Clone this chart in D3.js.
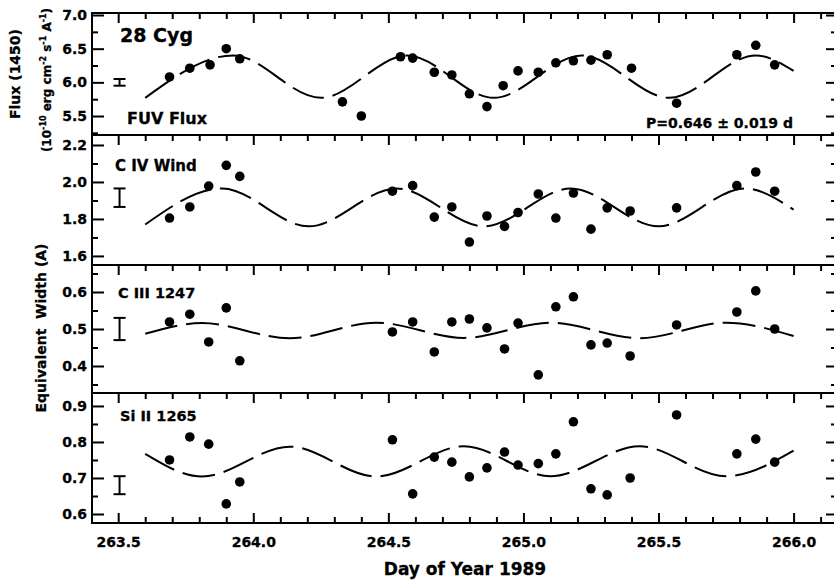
<!DOCTYPE html>
<html>
<head>
<meta charset="utf-8">
<script src="https://cdn.jsdelivr.net/npm/d3@7"></script>
<style>
    body { margin: 0; background: #fff; }
    svg { display: block; }
    text { font-family: "DejaVu Sans", sans-serif; font-weight: bold; fill: #000; stroke: #000; stroke-width: 0.3px; }
    .axis line { stroke: #000; stroke-width: 2; }
    .axis text { font-family: "DejaVu Sans", sans-serif; font-weight: bold; font-size: 14px; stroke: #000; stroke-width: 0.3px; }
    .frame { fill: none; stroke: #000; stroke-width: 2; }
    .fit { fill: none; stroke: #000; stroke-width: 2; stroke-dasharray: 33, 9; }
    .err { stroke: #000; stroke-width: 2; }
</style>
</head>
<body>
<script>

// observations, day of year 1989
var fuvDays = [263.69, 263.765, 263.84, 263.90, 263.95, 264.33, 264.40, 264.545, 264.59, 264.67,
    264.735, 264.80, 264.865, 264.925, 264.98, 265.055, 265.12, 265.185, 265.25, 265.31,
    265.40, 265.567, 265.79, 265.86, 265.93];
var fuvFlux = [6.08, 6.21, 6.26, 6.50, 6.35, 5.71, 5.50, 6.38, 6.36, 6.15,
    6.11, 5.83, 5.64, 5.95, 6.17, 6.15, 6.29, 6.32, 6.33, 6.41,
    6.21, 5.69, 6.41, 6.55, 6.26];

var lineDays = [263.69, 263.765, 263.835, 263.90, 263.95, 264.515, 264.59, 264.67, 264.735, 264.80,
    264.865, 264.93, 264.98, 265.055, 265.12, 265.185, 265.25, 265.31, 265.395, 265.567,
    265.79, 265.86, 265.93];
var civEW = [1.805, 1.865, 1.978, 2.09, 2.03, 1.95, 1.98, 1.81, 1.865, 1.675,
    1.816, 1.76, 1.835, 1.935, 1.805, 1.94, 1.745, 1.86, 1.843, 1.86,
    1.98, 2.054, 1.95];
var ciiiEW = [0.519, 0.54, 0.465, 0.557, 0.414, 0.492, 0.519, 0.438, 0.519, 0.527,
    0.503, 0.446, 0.516, 0.376, 0.56, 0.587, 0.457, 0.462, 0.427, 0.511,
    0.546, 0.603, 0.50];
var siiiEW = [0.75, 0.814, 0.794, 0.628, 0.689, 0.806, 0.656, 0.758, 0.744, 0.703,
    0.728, 0.772, 0.736, 0.74, 0.767, 0.856, 0.67, 0.653, 0.70, 0.875,
    0.767, 0.808, 0.744];

// dashed fits (P = 0.646 d) at turning points
var fuvFitDays = [263.60, 263.925, 264.25, 264.57, 264.89, 265.215, 265.54, 265.86, 266.00];
var fuvFit = [5.77, 6.40, 5.77, 6.40, 5.77, 6.40, 5.77, 6.40, 6.17];
var civFitDays = [263.60, 263.885, 264.205, 264.53, 264.855, 265.175, 265.50, 265.82, 266.00];
var civFit = [1.77, 1.965, 1.76, 1.965, 1.76, 1.965, 1.76, 1.965, 1.85];
var lineFitDays = [263.60, 263.81, 264.135, 264.455, 264.78, 265.10, 265.43, 265.75, 266.00];
var ciiiFit = [0.487, 0.516, 0.475, 0.517, 0.476, 0.517, 0.475, 0.517, 0.481];
var siiiFit = [0.767, 0.704, 0.787, 0.704, 0.788, 0.705, 0.788, 0.705, 0.776];

// typical error bars
var errDay = 263.505;
var errCenter = [6.0, 1.915, 0.50, 0.68];
var errHalf = [0.05, 0.05, 0.03, 0.025];

// axis ticks
var xMajor = [263.5, 264.0, 264.5, 265.0, 265.5, 266.0];
var yMajor = [[5.5, 6.0, 6.5, 7.0], [1.6, 1.8, 2.0, 2.2], [0.4, 0.5, 0.6], [0.6, 0.7, 0.8, 0.9]];
var yMinor = [[5.25, 5.75, 6.25, 6.75], [1.7, 1.9, 2.1], [0.35, 0.45, 0.55, 0.65], [0.65, 0.75, 0.85]];
var panelNames = ["FUV Flux", "C IV Wind", "C III 1247", "Si II 1265"];


var width = 834
    , height = 581
    , left = 92
    , right = 836;

var panels = [
    {top: 13, bottom: 135, domain: [5.218, 7.03], days: fuvDays, values: fuvFlux, fitDays: fuvFitDays, fit: fuvFit},
    {top: 135, bottom: 265, domain: [1.551, 2.254], days: lineDays, values: civEW, fitDays: civFitDays, fit: civFit},
    {top: 265, bottom: 393, domain: [0.327, 0.673], days: lineDays, values: ciiiEW, fitDays: lineFitDays, fit: ciiiFit},
    {top: 393, bottom: 523, domain: [0.575, 0.936], days: lineDays, values: siiiEW, fitDays: lineFitDays, fit: siiiFit}
];

var svg = d3.select("body").append("svg")
    .attr("width", width)
    .attr("height", height);

// 263.5 -> 118px, 266.0 -> 788px
var x = d3.scaleLinear()
    .domain([263.403, 266.157])
    .range([left, right]);

var xMinor = d3.range(263.6, 266.15, 0.1).filter(function(d) {
    return Math.abs(d * 2 - Math.round(d * 2)) > 0.01;
});

var line = d3.line()
    .curve(d3.curveMonotoneX);

panels.forEach(function(p, i) {
    var y = d3.scaleLinear()
        .domain(p.domain)
        .range([p.bottom, p.top]);

    var g = svg.append("g");

    // ticks on top edge (pointing down)
    g.append("g")
        .attr("class", "axis")
        .attr("transform", "translate(0," + p.top + ")")
        .call(d3.axisTop(x).tickValues(xMajor).tickSize(-10).tickFormat(""));
    g.append("g")
        .attr("class", "axis")
        .attr("transform", "translate(0," + p.top + ")")
        .call(d3.axisTop(x).tickValues(xMinor).tickSize(-6).tickFormat(""));

    // left ticks + labels
    g.append("g")
        .attr("class", "axis")
        .attr("transform", "translate(" + left + ",0)")
        .call(d3.axisLeft(y).tickValues(yMajor[i]).tickSizeInner(-12).tickSizeOuter(0)
            .tickPadding(5).tickFormat(d3.format(".1f")));
    g.append("g")
        .attr("class", "axis")
        .attr("transform", "translate(" + left + ",0)")
        .call(d3.axisLeft(y).tickValues(yMinor[i]).tickSize(-6).tickFormat(""));

    // right ticks (frame line itself falls just off the page)
    g.append("g")
        .attr("class", "axis")
        .attr("transform", "translate(" + right + ",0)")
        .call(d3.axisRight(y).tickValues(yMajor[i]).tickSize(-10).tickFormat(""));
    g.append("g")
        .attr("class", "axis")
        .attr("transform", "translate(" + right + ",0)")
        .call(d3.axisRight(y).tickValues(yMinor[i]).tickSize(-5).tickFormat(""));

    if (i == panels.length - 1) {
        g.append("g")
            .attr("class", "axis")
            .attr("transform", "translate(0," + p.bottom + ")")
            .call(d3.axisBottom(x).tickValues(xMajor).tickSize(-10).tickPadding(14)
                .tickFormat(d3.format(".1f")));
        g.append("g")
            .attr("class", "axis")
            .attr("transform", "translate(0," + p.bottom + ")")
            .call(d3.axisBottom(x).tickValues(xMinor).tickSize(-6).tickFormat(""));
    }

    g.selectAll(".domain").remove();

    g.append("rect")
        .attr("class", "frame")
        .attr("x", left)
        .attr("y", p.top)
        .attr("width", right - left)
        .attr("height", p.bottom - p.top);

    // fit curve
    g.append("path")
        .attr("class", "fit")
        .attr("d", line(p.fitDays.map(function(d, k) { return [x(d), y(p.fit[k])]; })));

    // data
    g.selectAll("circle")
        .data(p.days)
        .enter()
        .append("circle")
        .attr("cx", function(d) { return x(d); })
        .attr("cy", function(d, k) { return y(p.values[k]); })
        .attr("r", 4.8)
        .attr("fill", "#000");

    // error bar
    var ex = x(errDay)
        , y0 = y(errCenter[i] - errHalf[i])
        , y1 = y(errCenter[i] + errHalf[i]);
    g.append("line").attr("class", "err").attr("x1", ex).attr("x2", ex).attr("y1", y0).attr("y2", y1);
    g.append("line").attr("class", "err").attr("x1", ex - 6).attr("x2", ex + 6).attr("y1", y0).attr("y2", y0);
    g.append("line").attr("class", "err").attr("x1", ex - 6).attr("x2", ex + 6).attr("y1", y1).attr("y2", y1);
});

// panel captions
svg.append("text").attr("x", 120).attr("y", 42).style("font-size", "19px").text("28 Cyg");
svg.append("text").attr("x", 127).attr("y", 124).style("font-size", "16px").text(panelNames[0]);
svg.append("text").attr("x", 793).attr("y", 128).attr("text-anchor", "end")
    .style("font-size", "14px").text("P=0.646 \u00b1 0.019 d");
svg.append("text").attr("x", 115).attr("y", 171).style("font-size", "15px").text(panelNames[1]);
svg.append("text").attr("x", 118).attr("y", 298).style("font-size", "14.5px").text(panelNames[2]);
svg.append("text").attr("x", 120).attr("y", 421).style("font-size", "14.5px").text(panelNames[3]);

// axis titles
svg.append("text")
    .attr("transform", "translate(20,74) rotate(-90)")
    .attr("text-anchor", "middle")
    .style("font-size", "14px")
    .text("Flux (1450)");

var units = svg.append("text")
    .attr("transform", "translate(51,80) rotate(-90)")
    .attr("text-anchor", "middle")
    .style("font-size", "12px");
units.append("tspan").text("(10");
units.append("tspan").attr("dy", -5).style("font-size", "8px").text("-10");
units.append("tspan").attr("dy", 5).text(" erg cm");
units.append("tspan").attr("dy", -5).style("font-size", "8px").text("-2");
units.append("tspan").attr("dy", 5).text(" s");
units.append("tspan").attr("dy", -5).style("font-size", "8px").text("-1");
units.append("tspan").attr("dy", 5).text(" A");
units.append("tspan").attr("dy", -5).style("font-size", "8px").text("-1");
units.append("tspan").attr("dy", 5).text(")");

svg.append("text")
    .attr("transform", "translate(46,328) rotate(-90)")
    .attr("text-anchor", "middle")
    .style("font-size", "14px")
    .style("white-space", "pre")
    .text("Equivalent  Width (A)");

svg.append("text")
    .attr("x", 465)
    .attr("y", 575)
    .attr("text-anchor", "middle")
    .style("font-size", "17px")
    .text("Day of Year 1989");

</script>
</body>
</html>
